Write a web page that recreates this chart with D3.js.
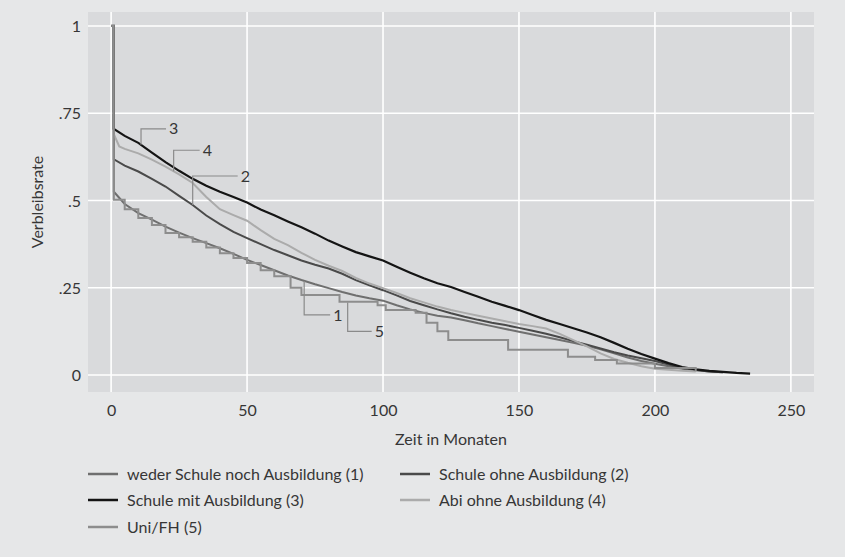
<!DOCTYPE html>
<html>
<head>
<meta charset="utf-8">
<script src="https://cdn.jsdelivr.net/npm/d3@7"></script>
<style>
html,body{margin:0;padding:0;background:#e6e7e8;}
svg{display:block;}
text{font-family:Lato,"Open Sans",sans-serif;fill:#363636;}
</style>
</head>
<body>
<svg id="chart" width="845" height="557"></svg>
<script>
// ---- data ----
const xTicks = [0, 50, 100, 150, 200, 250];
const yTicks = [0, 0.25, 0.5, 0.75, 1];
const yTickLabels = ["0", ".25", ".5", ".75", "1"];
const seriesNames = ["weder Schule noch Ausbildung (1)", "Schule ohne Ausbildung (2)", "Schule mit Ausbildung (3)", "Abi ohne Ausbildung (4)", "Uni/FH (5)"];
const seriesColors = ["#6f6f6f", "#4a4a4a", "#141414", "#ababab", "#8d8d8d"];

const s1 = [[0,1],[1,1],[1,0.525],[5,0.49],[10,0.464],[15,0.445],[20,0.425],[25,0.408],[30,0.392],[35,0.378],[40,0.363],[45,0.347],[50,0.33],[55,0.315],[60,0.3],[65,0.285],[70,0.272],[75,0.26],[80,0.249],[85,0.238],[90,0.228],[95,0.22],[100,0.213],[105,0.2],[110,0.188],[115,0.178],[120,0.17],[125,0.165],[130,0.157],[135,0.148],[140,0.14],[145,0.132],[150,0.124],[155,0.116],[160,0.108],[165,0.1],[170,0.092],[175,0.084],[180,0.074],[185,0.062],[190,0.05],[195,0.04],[200,0.032],[205,0.025],[210,0.018],[215,0.014],[220,0.01],[225,0.008]];
const s2 = [[0,1],[1,1],[1,0.618],[5,0.6],[10,0.583],[15,0.562],[20,0.54],[25,0.513],[30,0.487],[35,0.457],[40,0.432],[45,0.41],[50,0.392],[55,0.375],[60,0.358],[65,0.343],[70,0.328],[75,0.316],[80,0.305],[85,0.29],[90,0.272],[95,0.257],[100,0.243],[105,0.228],[110,0.212],[115,0.2],[120,0.188],[125,0.177],[130,0.167],[135,0.158],[140,0.15],[145,0.143],[150,0.135],[155,0.127],[160,0.118],[165,0.108],[170,0.097],[175,0.087],[180,0.076],[185,0.065],[190,0.056],[195,0.048],[200,0.04],[205,0.03],[210,0.02],[215,0.014],[220,0.01],[225,0.008]];
const s3 = [[0,1],[1,1],[1,0.705],[5,0.685],[10,0.665],[15,0.637],[20,0.61],[25,0.585],[30,0.562],[35,0.542],[40,0.525],[45,0.51],[50,0.494],[55,0.474],[60,0.458],[65,0.44],[70,0.423],[75,0.405],[80,0.385],[85,0.368],[90,0.352],[95,0.34],[100,0.328],[105,0.31],[110,0.293],[115,0.277],[120,0.263],[125,0.252],[130,0.238],[135,0.224],[140,0.21],[145,0.198],[150,0.186],[155,0.172],[160,0.158],[165,0.146],[170,0.134],[175,0.122],[180,0.108],[185,0.092],[190,0.075],[195,0.06],[200,0.047],[205,0.034],[210,0.023],[215,0.016],[220,0.012],[225,0.009],[230,0.006],[235,0.004]];
const s4 = [[0,1],[1,1],[1,0.69],[3,0.655],[5,0.648],[10,0.635],[15,0.617],[20,0.597],[25,0.575],[30,0.55],[35,0.51],[40,0.475],[45,0.458],[50,0.442],[55,0.415],[60,0.39],[65,0.372],[70,0.35],[75,0.33],[80,0.313],[85,0.298],[90,0.278],[95,0.262],[100,0.249],[105,0.235],[110,0.22],[115,0.208],[120,0.196],[125,0.186],[130,0.178],[135,0.17],[140,0.162],[145,0.154],[150,0.146],[155,0.14],[160,0.133],[165,0.118],[170,0.1],[175,0.082],[180,0.062],[185,0.046],[190,0.035],[195,0.025],[200,0.018],[205,0.015],[210,0.012],[215,0.01]];
const s5 = [[0,1],[1,1],[1,0.502],[5,0.475],[10,0.45],[15,0.43],[20,0.407],[25,0.395],[30,0.382],[35,0.365],[40,0.349],[45,0.335],[50,0.321],[55,0.3],[60,0.283],[66,0.25],[70,0.229],[84,0.21],[98,0.2],[101,0.186],[112,0.178],[116,0.15],[120,0.125],[124,0.1],[146,0.072],[168,0.052],[178,0.043],[186,0.033],[200,0.02],[215,0.01]];

const seriesData = [s1, s2, s3, s4, s5];
const seriesStep = [false, false, false, false, true];
const drawOrder = [0, 1, 3, 2, 4];

// curve labels: [seriesIndex, anchor month, label text]
const curveLabels = [[2, 11, "3"], [3, 23, "4"], [1, 30, "2"], [0, 71, "1"], [4, 87, "5"]];

// ---- layout ----
const svg = d3.select("#chart");
const plot = {left: 88, top: 12, right: 814, bottom: 392};
const x = d3.scaleLinear().domain([-8.5, 258.5]).range([plot.left, plot.right]);
const y = d3.scaleLinear().domain([-0.0487, 1.04]).range([plot.bottom, plot.top]);

svg.append("rect").attr("x", plot.left).attr("y", plot.top)
  .attr("width", plot.right - plot.left).attr("height", plot.bottom - plot.top)
  .attr("fill", "#d9dadc");

// grid
svg.append("g").selectAll("line").data(xTicks).join("line")
  .attr("x1", d => x(d)).attr("x2", d => x(d))
  .attr("y1", plot.top).attr("y2", plot.bottom)
  .attr("stroke", "#fff").attr("stroke-width", 1.6);
svg.append("g").selectAll("line").data(yTicks).join("line")
  .attr("x1", plot.left).attr("x2", plot.right)
  .attr("y1", d => y(d)).attr("y2", d => y(d))
  .attr("stroke", "#fff").attr("stroke-width", 1.6);

// axes (labels only)
const xAxis = d3.axisBottom(x).tickValues(xTicks).tickSize(0).tickPadding(0);
const gx = svg.append("g").attr("transform", `translate(0,${plot.bottom})`).call(xAxis);
gx.select(".domain").remove();
gx.selectAll("text").attr("dy", "0").attr("y", 24).style("font-size", "16px").style("font-family", "Lato").attr("fill", "#363636");

const yAxis = d3.axisLeft(y).tickValues(yTicks).tickFormat((d, i) => yTickLabels[i]).tickSize(0).tickPadding(0);
const gy = svg.append("g").attr("transform", `translate(${plot.left},0)`).call(yAxis);
gy.select(".domain").remove();
gy.selectAll("text").attr("x", -7).attr("dy", "0.35em").style("font-size", "16px").style("font-family", "Lato").attr("fill", "#363636");

// titles
svg.append("text").attr("x", (plot.left + plot.right) / 2).attr("y", 445)
  .attr("text-anchor", "middle").style("font-size", "16px").text("Zeit in Monaten");
svg.append("text").attr("transform", `translate(43,${(plot.top + plot.bottom) / 2}) rotate(-90)`)
  .attr("text-anchor", "middle").style("font-size", "16px").text("Verbleibsrate");

// lines
const clip = svg.append("clipPath").attr("id", "clip").append("rect")
  .attr("x", plot.left).attr("y", plot.top).attr("width", plot.right - plot.left).attr("height", plot.bottom - plot.top);
const lines = svg.append("g").attr("clip-path", "url(#clip)");
drawOrder.forEach(i => {
  const gen = d3.line().x(d => x(d[0])).y(d => y(d[1]))
    .curve(seriesStep[i] ? d3.curveStepAfter : d3.curveLinear);
  lines.append("path").datum(seriesData[i]).attr("d", gen)
    .attr("fill", "none").attr("stroke", seriesColors[i])
    .attr("stroke-width", i === 2 ? 2.2 : 2).attr("stroke-linejoin", "miter");
});

// curve labels with leaders
function valueAt(data, t) {
  let v = data[0][1];
  for (let k = 0; k < data.length - 1; k++) {
    const a = data[k], b = data[k + 1];
    if (t >= a[0] && t <= b[0]) {
      if (b[0] === a[0]) return b[1];
      return a[1] + (b[1] - a[1]) * (t - a[0]) / (b[0] - a[0]);
    }
  }
  return v;
}
const leaderOffsets = {"3": [-16, 25], "4": [-21, 26], "2": [-29, 45], "1": [34, 26], "5": [29, 24]};
curveLabels.forEach(([si, t, lab]) => {
  const px = x(t), py = y(valueAt(seriesData[si], t));
  const [dy, dx] = leaderOffsets[lab];
  const ey = py + dy;
  svg.append("path").attr("d", `M${px},${py}V${ey}H${px + dx}`)
    .attr("fill", "none").attr("stroke", "#8a8a8a").attr("stroke-width", 1.2);
  svg.append("text").attr("x", px + dx + 3).attr("y", ey).attr("dy", "0.35em")
    .style("font-size", "16px").text(lab);
});

// legend
const legendPos = [[88, 474], [400, 474], [88, 500], [400, 500], [88, 527]];
seriesNames.forEach((name, i) => {
  const [lx, ly] = legendPos[i];
  svg.append("line").attr("x1", lx).attr("x2", lx + 30).attr("y1", ly).attr("y2", ly)
    .attr("stroke", seriesColors[i]).attr("stroke-width", 2.5);
  svg.append("text").attr("x", lx + 39).attr("y", ly).attr("dy", "0.35em")
    .style("font-size", "16px").text(name);
});
</script>
</body>
</html>
